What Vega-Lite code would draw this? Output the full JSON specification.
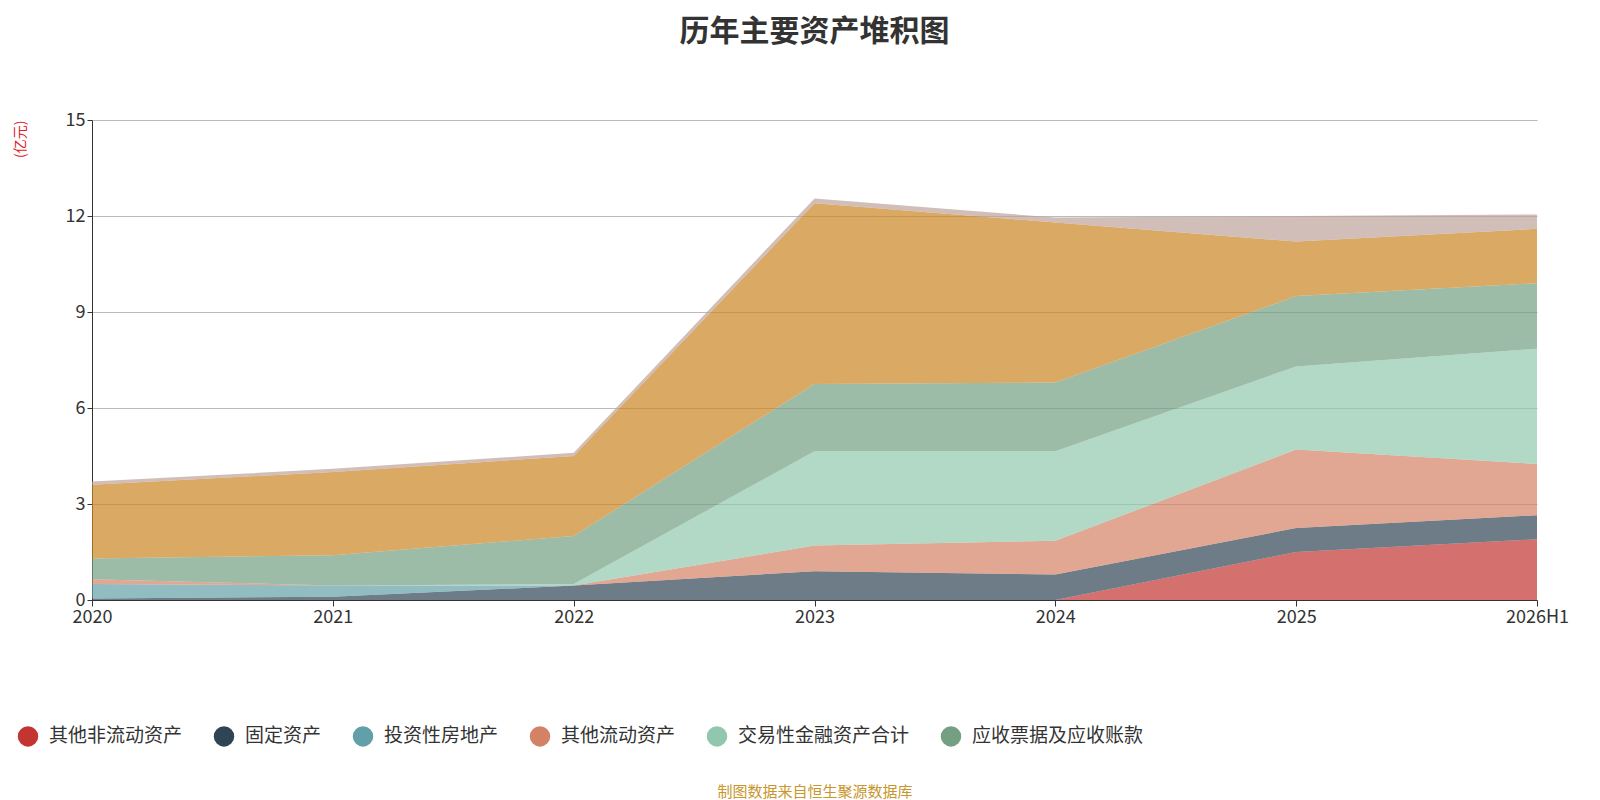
{
  "$schema": "https://vega.github.io/schema/vega-lite/v6.json",
  "width": 1445,
  "height": 480,
  "autosize": {"type": "none"},
  "padding": {"left": 92, "top": 120, "right": 95, "bottom": 215},
  "config": {"font": "Noto Sans CJK SC", "view": {"stroke": null}},
  "title": {"text": "历年主要资产堆积图", "fontSize": 30, "fontWeight": "bold", "color": "#333333", "offset": 64},
  "data": {
    "values": [
      {"year": "2020", "item": "其他非流动资产", "v": 0}, {"year": "2021", "item": "其他非流动资产", "v": 0}, {"year": "2022", "item": "其他非流动资产", "v": 0}, {"year": "2023", "item": "其他非流动资产", "v": 0}, {"year": "2024", "item": "其他非流动资产", "v": 0}, {"year": "2025", "item": "其他非流动资产", "v": 1.5}, {"year": "2026H1", "item": "其他非流动资产", "v": 1.9},
      {"year": "2020", "item": "固定资产", "v": 0.05}, {"year": "2021", "item": "固定资产", "v": 0.1}, {"year": "2022", "item": "固定资产", "v": 0.45}, {"year": "2023", "item": "固定资产", "v": 0.9}, {"year": "2024", "item": "固定资产", "v": 0.8}, {"year": "2025", "item": "固定资产", "v": 0.75}, {"year": "2026H1", "item": "固定资产", "v": 0.75},
      {"year": "2020", "item": "投资性房地产", "v": 0.45}, {"year": "2021", "item": "投资性房地产", "v": 0.35}, {"year": "2022", "item": "投资性房地产", "v": 0}, {"year": "2023", "item": "投资性房地产", "v": 0}, {"year": "2024", "item": "投资性房地产", "v": 0}, {"year": "2025", "item": "投资性房地产", "v": 0}, {"year": "2026H1", "item": "投资性房地产", "v": 0},
      {"year": "2020", "item": "其他流动资产", "v": 0.15}, {"year": "2021", "item": "其他流动资产", "v": 0}, {"year": "2022", "item": "其他流动资产", "v": 0}, {"year": "2023", "item": "其他流动资产", "v": 0.8}, {"year": "2024", "item": "其他流动资产", "v": 1.05}, {"year": "2025", "item": "其他流动资产", "v": 2.45}, {"year": "2026H1", "item": "其他流动资产", "v": 1.6},
      {"year": "2020", "item": "交易性金融资产合计", "v": 0}, {"year": "2021", "item": "交易性金融资产合计", "v": 0}, {"year": "2022", "item": "交易性金融资产合计", "v": 0.05}, {"year": "2023", "item": "交易性金融资产合计", "v": 2.95}, {"year": "2024", "item": "交易性金融资产合计", "v": 2.8}, {"year": "2025", "item": "交易性金融资产合计", "v": 2.6}, {"year": "2026H1", "item": "交易性金融资产合计", "v": 3.6},
      {"year": "2020", "item": "应收票据及应收账款", "v": 0.65}, {"year": "2021", "item": "应收票据及应收账款", "v": 0.95}, {"year": "2022", "item": "应收票据及应收账款", "v": 1.5}, {"year": "2023", "item": "应收票据及应收账款", "v": 2.1}, {"year": "2024", "item": "应收票据及应收账款", "v": 2.15}, {"year": "2025", "item": "应收票据及应收账款", "v": 2.2}, {"year": "2026H1", "item": "应收票据及应收账款", "v": 2.05},
      {"year": "2020", "item": "货币资金", "v": 2.3}, {"year": "2021", "item": "货币资金", "v": 2.6}, {"year": "2022", "item": "货币资金", "v": 2.5}, {"year": "2023", "item": "货币资金", "v": 5.65}, {"year": "2024", "item": "货币资金", "v": 5.0}, {"year": "2025", "item": "货币资金", "v": 1.7}, {"year": "2026H1", "item": "货币资金", "v": 1.7},
      {"year": "2020", "item": "存货", "v": 0.1}, {"year": "2021", "item": "存货", "v": 0.1}, {"year": "2022", "item": "存货", "v": 0.1}, {"year": "2023", "item": "存货", "v": 0.15}, {"year": "2024", "item": "存货", "v": 0.15}, {"year": "2025", "item": "存货", "v": 0.8}, {"year": "2026H1", "item": "存货", "v": 0.45}
    ]
  },
  "transform": [
    {"calculate": "indexof(['其他非流动资产','固定资产','投资性房地产','其他流动资产','交易性金融资产合计','应收票据及应收账款','货币资金','存货'], datum.item)", "as": "rank"}
  ],
  "mark": {"type": "area", "opacity": 0.7},
  "encoding": {
    "x": {
      "field": "year", "type": "ordinal", "scale": {"type": "point", "padding": 0},
      "axis": {"labelAngle": 0, "labelFontSize": 18, "labelColor": "#333333", "domainColor": "#333333", "tickColor": "#333333", "tickSize": 6, "grid": false,
               "title": "制图数据来自恒生聚源数据库", "titleColor": "#c9962c", "titleFontSize": 15, "titleFontWeight": "normal", "titlePadding": 158}
    },
    "y": {
      "field": "v", "type": "quantitative", "stack": "zero",
      "scale": {"domain": [0, 15]},
      "axis": {"values": [0, 3, 6, 9, 12, 15], "labelFontSize": 18, "labelColor": "#333333", "domainColor": "#333333", "tickColor": "#333333", "gridColor": "#bbbbbb",
               "title": "(亿元)", "titleColor": "#e02020", "titleFontSize": 14, "titleFontWeight": "normal", "titleAnchor": "end", "titlePadding": 38}
    },
    "color": {
      "field": "item", "type": "nominal",
      "sort": ["其他非流动资产", "固定资产", "投资性房地产", "其他流动资产", "交易性金融资产合计", "应收票据及应收账款", "货币资金", "存货"],
      "scale": {
        "domain": ["其他非流动资产", "固定资产", "投资性房地产", "其他流动资产", "交易性金融资产合计", "应收票据及应收账款", "货币资金", "存货"],
        "range": ["#c23531", "#2f4554", "#61a0a8", "#d48265", "#91c7ae", "#749f83", "#ca8622", "#bda29a"]
      },
      "legend": {
        "orient": "none", "legendX": -75, "legendY": 605, "direction": "horizontal", "columns": 6, "title": null,
        "values": ["其他非流动资产", "固定资产", "投资性房地产", "其他流动资产", "交易性金融资产合计", "应收票据及应收账款"],
        "symbolType": "circle", "symbolSize": 420, "symbolOpacity": 1, "labelFontSize": 19, "labelColor": "#333333", "columnPadding": 30, "labelOffset": 10, "labelLimit": 300
      }
    },
    "order": {"field": "rank", "type": "quantitative", "sort": "ascending"}
  }
}
